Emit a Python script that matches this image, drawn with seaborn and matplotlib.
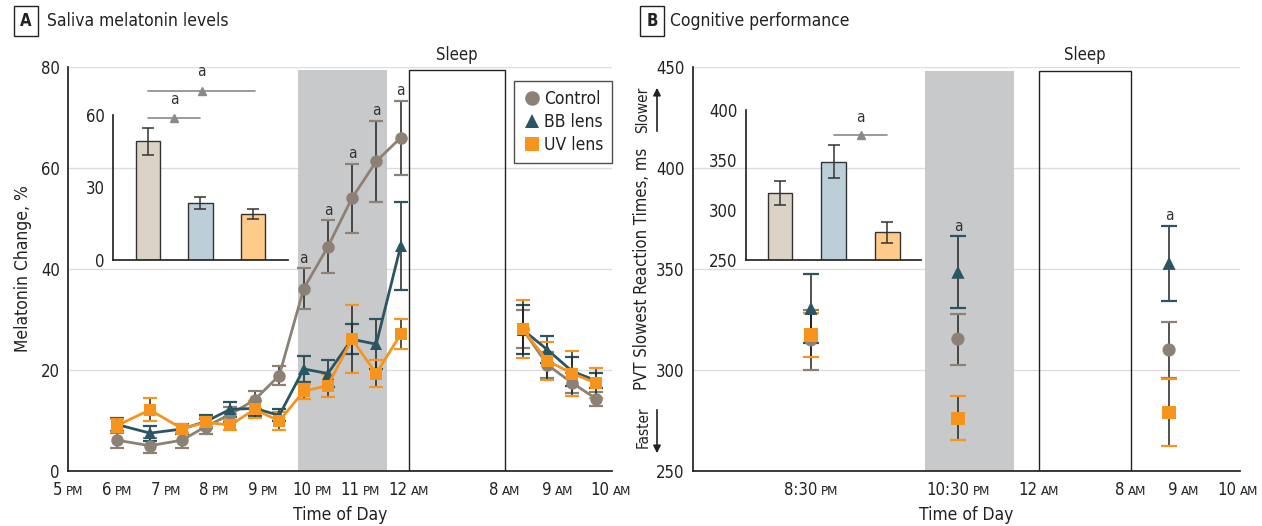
import numpy as np
import pandas as pd
import seaborn as sns
import matplotlib.pyplot as plt
from matplotlib import font_manager
from matplotlib.lines import Line2D
from matplotlib.patches import Rectangle
from matplotlib.offsetbox import AnnotationBbox, HPacker, TextArea

# --- CONFIG ---
GROUPS = ["Control", "BB lens", "UV lens"]
LINE_COLORS = {"Control": "#8C8174", "BB lens": "#2A5664", "UV lens": "#F7941D"}
BAR_COLORS = ["#DBD4C6", "#BCCFD8", "#FECB8A"]
MARKERS = {"Control": "o", "BB lens": "^", "UV lens": "s"}
SHADE = "#C8C9CB"
DARK = "#222222"

# --- Panel A: saliva melatonin (% change); clock hours, 24+ = next morning
MEL_TIMES = [18.0, 18.67, 19.33, 19.83, 20.33, 20.83, 21.33, 21.83, 22.33, 22.83, 23.33, 23.83,
             32.33, 32.8, 33.27, 33.72]
MEL_SEG = ["pm"] * 12 + ["am"] * 4
mel_control = [6.1, 5.0, 6.1, 8.8, 11.2, 14.1, 18.9, 36.1, 44.4, 54.0, 61.3, 66.0, 28.1, 21.0, 17.4, 14.3]
mel_control_err = [1.5, 1.5, 1.5, 1.5, 1.5, 1.8, 1.8, 4.0, 5.2, 6.8, 8.0, 7.3, 3.8, 2.5, 2.0, 1.4]
mel_bb = [9.2, 7.5, 8.3, 9.8, 12.2, 12.4, 11.0, 20.2, 19.3, 26.1, 25.1, 44.6, 28.0, 24.0, 19.7, 17.9]
mel_bb_err = [1.3, 1.5, 1.0, 1.2, 1.5, 1.5, 1.2, 2.6, 2.6, 3.0, 5.0, 8.7, 4.9, 2.7, 2.8, 1.5]
mel_uv = [9.0, 12.1, 8.4, 9.6, 9.1, 12.2, 9.9, 15.8, 16.9, 26.1, 19.3, 27.1, 28.1, 21.8, 19.3, 17.4]
mel_uv_err = [1.3, 2.3, 0.8, 1.0, 1.0, 1.7, 1.7, 1.5, 2.3, 6.7, 2.7, 3.0, 5.8, 3.7, 4.4, 2.9]
MEL_SIG_IDX = [7, 8, 9, 10, 11]   # control points marked "a"

mel_bar = [49.1, 23.6, 19.0]
mel_bar_err = [5.5, 2.4, 2.0]

# --- Panel B: PVT slowest reaction times (ms)
PVT_TIMES = [20.5, 22.5, 32.72]
pvt_control = [314.9, 315.3, 309.9]
pvt_control_err = [15.0, 12.6, 14.0]
pvt_bb = [330.5, 348.4, 352.8]
pvt_bb_err = [17.0, 17.7, 18.5]
pvt_uv = [317.3, 276.1, 279.0]
pvt_uv_err = [11.0, 11.0, 16.5]
PVT_SIG_IDX = [1, 2]   # BB points marked "a"

pvt_bar = [317.2, 348.4, 278.0]
pvt_bar_err = [12.0, 16.6, 10.3]

# --- broken time axes (sleep compressed)
A_TICK_HOURS = [17, 18, 19, 20, 21, 22, 23, 24, 32, 33, 34]
A_TICK_POS = [0, 49, 98, 146, 195, 244, 292, 341, 437, 490, 543]
A_TICK_NUM = ["5", "6", "7", "8", "9", "10", "11", "12", "8", "9", "10"]
A_TICK_SUF = ["PM"] * 7 + ["AM"] * 4
A_SHADE = (21.72, 23.55)

B_TICK_HOURS = [20.5, 22.5, 24, 32, 33, 34]
B_TICK_POS = [118, 265, 346, 438, 491, 545]
B_TICK_NUM = ["8:30", "10:30", "12", "8", "9", "10"]
B_TICK_SUF = ["PM", "PM", "AM", "AM", "AM", "AM"]
B_SHADE = (22.05, 23.54)
SLEEP = (24, 32)


def to_pos(hours, tick_hours, tick_pos):
    return np.interp(hours, tick_hours, tick_pos)


def draw_errorbars(ax, x, series, zorder=2.5, capsize=5):
    for g, (vals, errs) in series.items():
        _, caps, _ = ax.errorbar(x, vals, yerr=errs, fmt="none", ecolor=DARK, elinewidth=1.1,
                                 capsize=capsize, capthick=1.6, zorder=zorder)
        for c in caps:
            c.set_markeredgecolor(LINE_COLORS[g])


def mark_a(ax, x, top, offset=2):
    ax.annotate("a", (x, top), xytext=(0, offset), textcoords="offset points",
                ha="center", va="bottom", fontsize=11, color="#333333")


def bracket(ax, x0, x1, y, ya):
    ax.plot([x0, x1], [y, y], color="#8A8A8A", lw=1.2, clip_on=False)
    ax.plot([(x0 + x1) / 2], [y], marker="^", color="#8A8A8A", ms=6, clip_on=False)
    ax.text((x0 + x1) / 2, ya, "a", ha="center", va="center", fontsize=11, color="#333333")


def inset_bars(ax, vals, errs, ylim, yticks, xlim):
    sns.barplot(x=GROUPS, y=vals, hue=GROUPS, palette=BAR_COLORS, saturation=1, width=0.46,
                edgecolor="#333333", linewidth=1.0, legend=False, errorbar=None, ax=ax)
    ax.errorbar(range(3), vals, yerr=errs, fmt="none", ecolor="#333333", elinewidth=1.1,
                capsize=4, capthick=1.1)
    ax.set_xlim(*xlim)
    ax.set_ylim(*ylim)
    ax.set_yticks(yticks)
    ax.set_xticks([])
    ax.set_xlabel("")
    ax.set_ylabel("")
    ax.patch.set_alpha(0)
    ax.spines[["top", "right"]].set_visible(False)
    ax.tick_params(axis="y", length=4, width=1, labelsize=12, pad=2, color="#333333")
    ax.grid(False)


def time_ticks(ax, pos, nums, sufs):
    # number + small-caps style AM/PM, centred on the tick
    ax.set_xticks(pos)
    ax.set_xticklabels([])
    tr = ax.get_xaxis_transform()
    for p, n, s in zip(pos, nums, sufs):
        box = HPacker(children=[TextArea(n, textprops=dict(fontsize=12, color=DARK)),
                                TextArea(s, textprops=dict(fontsize=9.5, color=DARK))],
                      align="baseline", pad=0, sep=2.5)
        ab = AnnotationBbox(box, (p, 0), xycoords=tr, xybox=(0, -7.5), boxcoords="offset points",
                            box_alignment=(0.5, 1), frameon=False, pad=0, annotation_clip=False)
        ax.add_artist(ab)


def style_main(ax, ylim, yticks, xmax):
    ax.set_xlim(0, xmax)
    ax.set_ylim(*ylim)
    ax.set_yticks(yticks)
    ax.spines[["top", "right"]].set_visible(False)
    ax.spines[["left", "bottom"]].set_color(DARK)
    ax.tick_params(length=4, width=1, labelsize=12, color=DARK, pad=2)
    ax.grid(axis="y", color="#DDDDDD", lw=1)
    ax.grid(axis="x", visible=False)
    ax.set_axisbelow(True)
    ax.set_xlabel("Time of Day", fontsize=12.5, labelpad=19)


sns.set_theme(style="white")
installed = {f.name for f in font_manager.fontManager.ttflist}
condensed = any(f.name == "DejaVu Sans" and f.stretch == "condensed"
                for f in font_manager.fontManager.ttflist)
if "Liberation Sans Narrow" in installed:
    plt.rcParams["font.family"] = ["Liberation Sans Narrow", "DejaVu Sans"]
elif condensed:
    plt.rcParams["font.family"] = ["DejaVu Sans"]
    plt.rcParams["font.stretch"] = "condensed"
else:
    plt.rcParams["font.family"] = ["Roboto", "DejaVu Sans"]
plt.rcParams["text.color"] = DARK
plt.rcParams["axes.labelcolor"] = DARK
plt.rcParams["xtick.color"] = DARK
plt.rcParams["ytick.color"] = DARK

fig = plt.figure(figsize=(12.62, 5.26), dpi=100)
axA = fig.add_axes([0.0539, 0.1046, 0.4311, 0.7681])
axB = fig.add_axes([0.5491, 0.1046, 0.4334, 0.7681])
insA = fig.add_axes([0.0895, 0.5057, 0.1387, 0.2757])
insB = fig.add_axes([0.5909, 0.5051, 0.1387, 0.2857])

# ---------- Panel A ----------
xA = to_pos(MEL_TIMES, A_TICK_HOURS, A_TICK_POS)
dfA = pd.concat([
    pd.DataFrame({"pos": xA, "value": v, "group": g, "seg": MEL_SEG})
    for g, v in zip(GROUPS, [mel_control, mel_bb, mel_uv])
])
top_a = 79.3
s0, s1 = to_pos(list(A_SHADE), A_TICK_HOURS, A_TICK_POS)
axA.add_patch(Rectangle((s0, 0), s1 - s0, top_a, color=SHADE, lw=0, zorder=0.8))
z0, z1 = to_pos(list(SLEEP), A_TICK_HOURS, A_TICK_POS)
axA.add_patch(Rectangle((z0, 0), z1 - z0, top_a, fill=False, ec=DARK, lw=1.0, zorder=1))
axA.text((z0 + z1) / 2, 1.03, "Sleep", transform=axA.get_xaxis_transform(),
         ha="center", va="center", fontsize=12)

draw_errorbars(axA, xA, {"Control": (mel_control, mel_control_err),
                         "BB lens": (mel_bb, mel_bb_err),
                         "UV lens": (mel_uv, mel_uv_err)})
sns.lineplot(data=dfA, x="pos", y="value", hue="group", style="group", units="seg",
             estimator=None, sort=False, hue_order=GROUPS, palette=LINE_COLORS,
             markers=MARKERS, dashes=False, markersize=9, markeredgewidth=0, linewidth=2,
             legend=False, ax=axA, zorder=3)
for i in MEL_SIG_IDX:
    mark_a(axA, xA[i], mel_control[i] + mel_control_err[i])

style_main(axA, (0, 80), [0, 20, 40, 60, 80], 544)
time_ticks(axA, A_TICK_POS, A_TICK_NUM, A_TICK_SUF)
axA.set_ylabel("Melatonin Change, %", fontsize=12.5, labelpad=6)

handles = [Line2D([], [], marker=MARKERS[g], color=LINE_COLORS[g], ls="none", ms=10.5, mew=0)
           for g in GROUPS]
leg = axA.legend(handles, GROUPS, loc="upper right", bbox_to_anchor=(1.0, 0.965), borderaxespad=0,
                 frameon=True, fancybox=False, edgecolor=DARK, handletextpad=0.15, borderpad=0.5,
                 handlelength=1.1, labelspacing=0.3, fontsize=12.5)
leg.get_frame().set_linewidth(1.0)

inset_bars(insA, mel_bar, mel_bar_err, (0, 60), [0, 30, 60], (-0.67, 2.67))
bracket(insA, 0, 1, 58.8, 66.2)
bracket(insA, 0, 2.04, 70.1, 77.8)

# ---------- Panel B ----------
xB = to_pos(PVT_TIMES, B_TICK_HOURS, B_TICK_POS)
dfB = pd.concat([
    pd.DataFrame({"pos": xB, "value": v, "group": g})
    for g, v in zip(GROUPS, [pvt_control, pvt_bb, pvt_uv])
])
top_b = 448.2
s0, s1 = to_pos(list(B_SHADE), B_TICK_HOURS, B_TICK_POS)
axB.add_patch(Rectangle((s0, 250), s1 - s0, top_b - 250, color=SHADE, lw=0, zorder=0.8))
z0, z1 = to_pos(list(SLEEP), B_TICK_HOURS, B_TICK_POS)
axB.add_patch(Rectangle((z0, 250), z1 - z0, top_b - 250, fill=False, ec=DARK, lw=1.0, zorder=1))
axB.text((z0 + z1) / 2, 1.03, "Sleep", transform=axB.get_xaxis_transform(),
         ha="center", va="center", fontsize=12)

draw_errorbars(axB, xB, {"Control": (pvt_control, pvt_control_err),
                         "BB lens": (pvt_bb, pvt_bb_err),
                         "UV lens": (pvt_uv, pvt_uv_err)}, capsize=6)
sns.scatterplot(data=dfB, x="pos", y="value", hue="group", style="group", hue_order=GROUPS,
                palette=LINE_COLORS, markers=MARKERS, s=90, linewidth=0, legend=False,
                ax=axB, zorder=3)
for i in PVT_SIG_IDX:
    mark_a(axB, xB[i], pvt_bb[i] + pvt_bb_err[i])

style_main(axB, (250, 450), [250, 300, 350, 400, 450], 547)
time_ticks(axB, B_TICK_POS, B_TICK_NUM, B_TICK_SUF)
axB.set_ylabel("PVT Slowest Reaction Times, ms", fontsize=12, labelpad=4)

inset_bars(insB, pvt_bar, pvt_bar_err, (250, 400), [250, 300, 350, 400], (-0.64, 2.62))
bracket(insB, 1, 2, 374.8, 392.7)

# slower / faster cues
fig.text(643 / 1262, 1 - 110 / 526, "Slower", rotation=90, ha="center", va="center", fontsize=11)
fig.text(643 / 1262, 1 - 427 / 526, "Faster", rotation=90, ha="center", va="center", fontsize=11)
arrow = dict(arrowstyle="-|>", color=DARK, lw=1.2, mutation_scale=11)
fig.add_artist(plt.Annotation("", xy=(657 / 1262, 1 - 85 / 526), xytext=(657 / 1262, 1 - 134 / 526),
                              xycoords="figure fraction", arrowprops=arrow))
fig.add_artist(plt.Annotation("", xy=(657 / 1262, 1 - 456 / 526), xytext=(657 / 1262, 1 - 407 / 526),
                              xycoords="figure fraction", arrowprops=arrow))

# panel headers
box = dict(boxstyle="square,pad=0.35", fc="white", ec=DARK, lw=1.0)
fig.text(26 / 1262, 1 - 21 / 526, "A", ha="center", va="center", fontsize=12, fontweight="bold", bbox=box)
fig.text(47 / 1262, 1 - 21 / 526, "Saliva melatonin levels", ha="left", va="center", fontsize=12.5)
fig.text(652 / 1262, 1 - 21 / 526, "B", ha="center", va="center", fontsize=12, fontweight="bold", bbox=box)
fig.text(670 / 1262, 1 - 21 / 526, "Cognitive performance", ha="left", va="center", fontsize=12.5)

fig.savefig("out.png", dpi=100)
